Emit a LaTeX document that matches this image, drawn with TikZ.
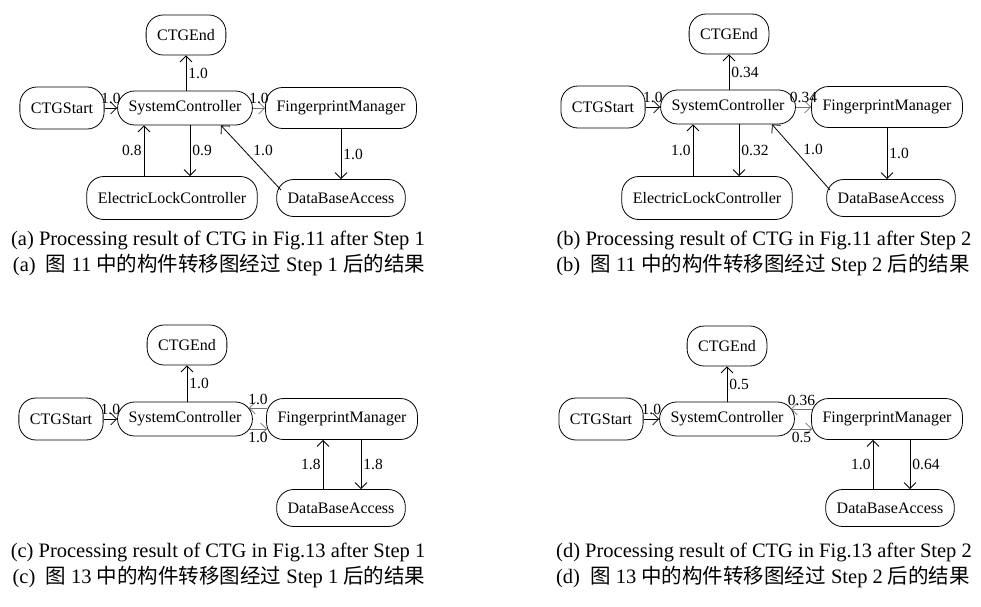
\documentclass[tikz,border=0pt]{standalone}
\usepackage{fontspec}
\setmainfont{Liberation Serif}
\newfontfamily\cjk{Noto Sans CJK SC}
\usetikzlibrary{arrows.meta}
\begin{document}
\begin{tikzpicture}[x=1pt,y=-1pt,
  comp/.style={draw, line width=0.8pt, rounded corners=17pt, inner xsep=11pt,
    inner ysep=0pt, font=\fontsize{16}{18}\selectfont},
  flow/.style={-{Straight Barb[length=6pt,width=12pt]}, line width=0.8pt},
  soft/.style={flow, draw=black!55},
  wt/.style={font=\fontsize{15.5}{17}\selectfont, inner sep=2pt, text=black},
  captext/.style={font=\fontsize{20.5}{23}\selectfont, inner sep=0pt},
]
\useasboundingbox (0,0) rectangle (981,606);

% ---------- (a) ----------
\node[comp, minimum height=40pt] (aend)   at (186,35)  {CTGEnd};
\node[comp, minimum height=42pt] (astart) at (62,108)  {CTGStart};
\node[comp, minimum height=34pt] (asc)    at (185,108) {SystemController};
\node[comp, minimum height=41pt] (afm)    at (341,108) {FingerprintManager};
\node[comp, minimum height=43pt] (aelc)   at (172,198) {ElectricLockController};
\node[comp, minimum height=37pt] (adba)   at (341,198) {DataBaseAccess};

\draw[flow] (asc.north -| aend) -- (aend.south) node[wt, midway, right] {1.0};
\draw[flow] (astart.east) -- (asc.west) node[wt, midway, above=2pt] {1.0};
\draw[soft] (asc.east) -- (afm.west) node[wt, midway, above=2pt] {1.0};
\coordinate (a1) at ([xshift=-28pt]aelc.north);
\draw[flow] (a1) -- (a1 |- asc.south) node[wt, midway, left] {0.8};
\coordinate (a2) at ([xshift=18pt]aelc.north);
\draw[flow] (a2 |- asc.south) -- (a2) node[wt, midway, right] {0.9};
\coordinate (a3) at ([xshift=-60pt,yshift=8pt]adba.center);
\coordinate (a4) at ([xshift=36pt]asc.south);
\draw[flow] (a3) -- (a4) node[wt, midway, above right] {1.0};
\draw[flow] (afm.south) -- (afm.south |- adba.north) node[wt, midway, right] {1.0};

\node[captext] (capa1) at (218,240) {(a) Processing result of CTG in Fig.11 after Step 1};
\node[captext] (capa2) at (219,265) {(a)\ \ {\cjk 图} 11 {\cjk 中的构件转移图经过} Step 1 {\cjk 后的结果}};

% ---------- (b) ----------
\node[comp, minimum height=40pt] (bend)   at (729,34)  {CTGEnd};
\node[comp, minimum height=42pt] (bstart) at (603,107) {CTGStart};
\node[comp, minimum height=34pt] (bsc)    at (728,107) {SystemController};
\node[comp, minimum height=41pt] (bfm)    at (887,107) {FingerprintManager};
\node[comp, minimum height=43pt] (belc)   at (707,198) {ElectricLockController};
\node[comp, minimum height=37pt] (bdba)   at (891,198) {DataBaseAccess};

\draw[flow] (bsc.north -| bend) -- (bend.south) node[wt, midway, right] {0.34};
\draw[flow] (bstart.east) -- (bsc.west) node[wt, midway, above=2pt] {1.0};
\draw[soft] (bsc.east) -- (bfm.west) node[wt, midway, above=2pt] {0.34};
\coordinate (b1) at ([xshift=-14pt]belc.north);
\draw[flow] (b1) -- (b1 |- bsc.south) node[wt, midway, left] {1.0};
\coordinate (b2) at ([xshift=32pt]belc.north);
\draw[flow] (b2 |- bsc.south) -- (b2) node[wt, midway, right] {0.32};
\coordinate (b3) at ([xshift=-61pt,yshift=8pt]bdba.center);
\coordinate (b4) at ([xshift=44pt]bsc.south);
\draw[flow] (b3) -- (b4) node[wt, midway, above right] {1.0};
\draw[flow] (bfm.south) -- (bfm.south |- bdba.north) node[wt, midway, right] {1.0};

\node[captext] (capb1) at (764,240) {(b) Processing result of CTG in Fig.11 after Step 2};
\node[captext] (capb2) at (763,265) {(b)\ \ {\cjk 图} 11 {\cjk 中的构件转移图经过} Step 2 {\cjk 后的结果}};

% ---------- (c) ----------
\node[comp, minimum height=40pt] (cend)   at (187,345) {CTGEnd};
\node[comp, minimum height=42pt] (cstart) at (61,419)  {CTGStart};
\node[comp, minimum height=34pt] (csc)    at (185,419) {SystemController};
\node[comp, minimum height=41pt] (cfm)    at (342,419) {FingerprintManager};
\node[comp, minimum height=37pt] (cdba)   at (341,508) {DataBaseAccess};

\draw[flow] (csc.north -| cend) -- (cend.south) node[wt, midway, right] {1.0};
\draw[flow] (cstart.east) -- (csc.west) node[wt, midway, above=2pt] {1.0};
\coordinate (c1) at ([yshift=11pt,xshift=1pt]cfm.west);
\coordinate (c2) at ([yshift=11pt,xshift=-4pt]csc.east);
\draw[soft] (c1) -- (c2) node[wt, midway, above=1pt] {1.0};
\coordinate (c3) at ([yshift=-10pt,xshift=-4pt]csc.east);
\coordinate (c4) at ([yshift=-10pt,xshift=1pt]cfm.west);
\draw[soft] (c3) -- (c4) node[wt, midway, below=1pt] {1.0};
\coordinate (c5) at ([xshift=-18pt]cdba.north);
\draw[flow] (c5) -- (c5 |- cfm.south) node[wt, midway, left] {1.8};
\coordinate (c6) at ([xshift=20pt]cdba.north);
\draw[flow] (c6 |- cfm.south) -- (c6) node[wt, midway, right] {1.8};

\node[captext] (capc1) at (218,552) {(c) Processing result of CTG in Fig.13 after Step 1};
\node[captext] (capc2) at (219,577) {(c)\ \ {\cjk 图} 13 {\cjk 中的构件转移图经过} Step 1 {\cjk 后的结果}};

% ---------- (d) ----------
\node[comp, minimum height=40pt] (dend)   at (727,346) {CTGEnd};
\node[comp, minimum height=42pt] (dstart) at (601,419) {CTGStart};
\node[comp, minimum height=34pt] (dsc)    at (727,419) {SystemController};
\node[comp, minimum height=41pt] (dfm)    at (887,419) {FingerprintManager};
\node[comp, minimum height=37pt] (ddba)   at (890,508) {DataBaseAccess};

\draw[flow] (dsc.north -| dend) -- (dend.south) node[wt, midway, right] {0.5};
\draw[flow] (dstart.east) -- (dsc.west) node[wt, midway, above=2pt] {1.0};
\coordinate (d1) at ([yshift=10pt,xshift=1pt]dfm.west);
\coordinate (d2) at ([yshift=10pt,xshift=-4pt]dsc.east);
\draw[soft] (d1) -- (d2) node[wt, midway, above=1pt] {0.36};
\coordinate (d3) at ([yshift=-10pt,xshift=-4pt]dsc.east);
\coordinate (d4) at ([yshift=-10pt,xshift=1pt]dfm.west);
\draw[soft] (d3) -- (d4) node[wt, midway, below=1pt] {0.5};
\coordinate (d5) at ([xshift=-17pt]ddba.north);
\draw[flow] (d5) -- (d5 |- dfm.south) node[wt, midway, left] {1.0};
\coordinate (d6) at ([xshift=20pt]ddba.north);
\draw[flow] (d6 |- dfm.south) -- (d6) node[wt, midway, right] {0.64};

\node[captext] (capd1) at (764,552) {(d) Processing result of CTG in Fig.13 after Step 2};
\node[captext] (capd2) at (763,577) {(d)\ \ {\cjk 图} 13 {\cjk 中的构件转移图经过} Step 2 {\cjk 后的结果}};
\end{tikzpicture}
\end{document}
